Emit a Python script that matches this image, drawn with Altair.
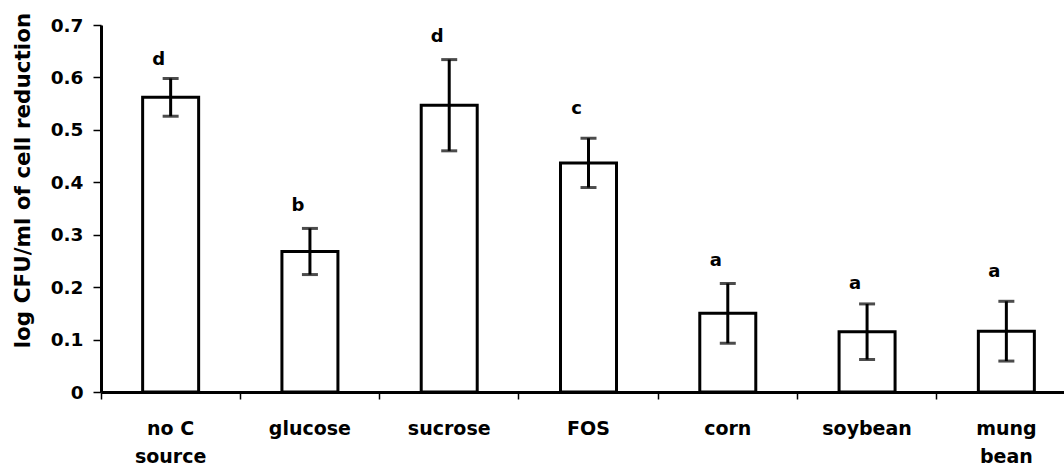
import altair as alt
import pandas as pd

categories = ["no C source", "glucose", "sucrose", "FOS", "corn", "soybean", "mung bean"]
means = [0.562, 0.268, 0.547, 0.437, 0.150, 0.115, 0.116]
errors = [0.036, 0.044, 0.087, 0.047, 0.057, 0.053, 0.057]
letters = ["d", "b", "d", "c", "a", "a", "a"]
letter_y = [0.634, 0.355, 0.677, 0.539, 0.249, 0.206, 0.228]
y_ticks = [0, 0.1, 0.2, 0.3, 0.4, 0.5, 0.6, 0.7]

df = pd.DataFrame({
    "cat": categories,
    "mean": means,
    "lo": [m - e for m, e in zip(means, errors)],
    "hi": [m + e for m, e in zip(means, errors)],
    "letter": letters,
    "ly": letter_y,
})

FONT = "DejaVu Sans"

x_enc = alt.X(
    "cat:N",
    sort=categories,
    title=None,
    scale=alt.Scale(paddingInner=0, paddingOuter=0),
    axis=alt.Axis(
        labelAngle=0,
        labelFont=FONT,
        labelFontSize=19,
        labelFontWeight="bold",
        labelColor="black",
        labelPadding=20,
        labelLineHeight=28,
        labelExpr="datum.value == 'no C source' ? ['no C', 'source'] : datum.value == 'mung bean' ? ['mung', 'bean'] : datum.value",
        domainColor="black",
        domainWidth=3,
        tickColor="black",
        tickWidth=1.5,
        tickSize=7,
        bandPosition=0,
    ),
)

y_scale = alt.Scale(domain=[0, 0.7], nice=False, zero=True)

bars = alt.Chart(df).mark_bar(
    width=56, fill="white", stroke="black", strokeWidth=3
).encode(
    x=x_enc,
    y=alt.Y(
        "mean:Q",
        scale=y_scale,
        title="log CFU/ml of cell reduction",
        axis=alt.Axis(
            values=y_ticks,
            format=".1~f",
            grid=False,
            labelFont=FONT,
            labelFontSize=18.5,
            labelFontWeight="bold",
            labelColor="black",
            labelPadding=10,
            titleFont=FONT,
            titleFontSize=21.5,
            titleFontWeight="bold",
            titleColor="black",
            titleX=-67,
            titleY=155,
            titleAngle=270,
            titleAlign="center",
            titleBaseline="bottom",
            domainColor="black",
            domainWidth=3,
            tickColor="black",
            tickWidth=1.5,
            tickSize=8,
        ),
    ),
)

rules = alt.Chart(df).mark_rule(color="black", strokeWidth=3).encode(
    x=alt.X("cat:N", sort=categories),
    y=alt.Y("lo:Q", scale=y_scale),
    y2="hi:Q",
)

cap_lo = alt.Chart(df).mark_tick(color="black", thickness=3, size=16, orient="horizontal").encode(
    x=alt.X("cat:N", sort=categories),
    y=alt.Y("lo:Q", scale=y_scale),
)
cap_hi = alt.Chart(df).mark_tick(color="black", thickness=3, size=16, orient="horizontal").encode(
    x=alt.X("cat:N", sort=categories),
    y=alt.Y("hi:Q", scale=y_scale),
)

text = alt.Chart(df).mark_text(
    font=FONT, fontSize=18, fontWeight="bold", color="black", dx=-12, baseline="middle"
).encode(
    x=alt.X("cat:N", sort=categories),
    y=alt.Y("ly:Q", scale=y_scale),
    text="letter:N",
)

chart = alt.layer(bars, rules, cap_lo, cap_hi, text).properties(
    width=975,
    height=367,
    autosize=alt.AutoSizeParams(type="none"),
    padding={"left": 101, "top": 25, "right": -12, "bottom": 71},
    background="white",
).configure_view(stroke=None)

chart.save("out.html", embed_options={"renderer": "svg", "actions": False})
